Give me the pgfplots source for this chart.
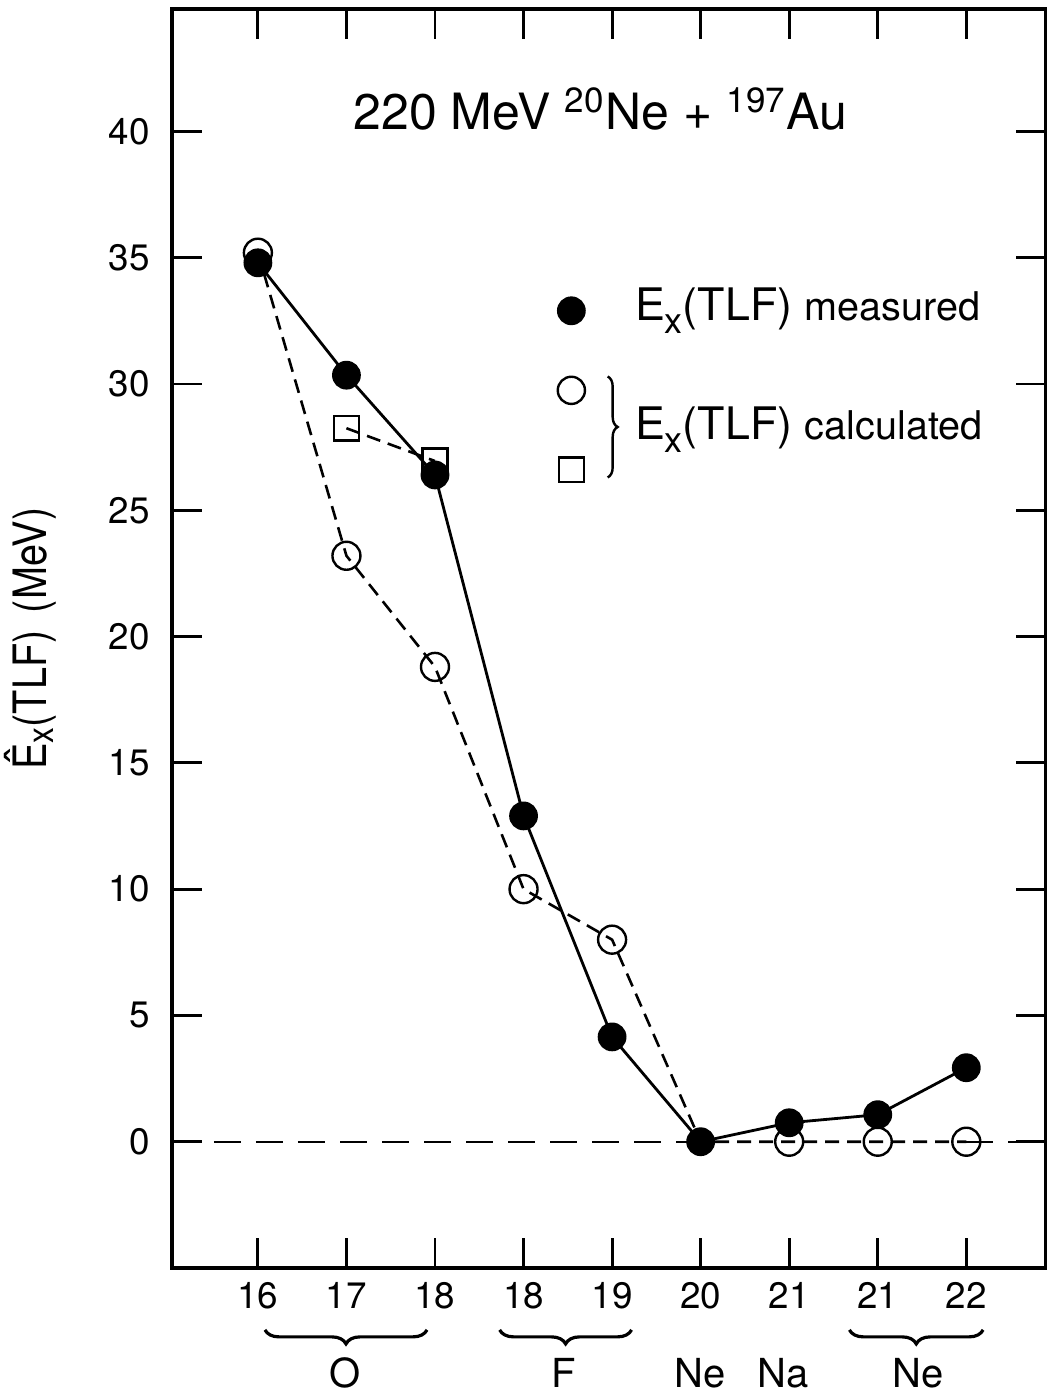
\documentclass[border=0pt]{standalone}
\usepackage{fontspec}
\setmainfont{TeX Gyre Heros}
\usepackage{pgfplots}
\pgfplotsset{compat=1.18}
\usetikzlibrary{decorations.pathreplacing}
\newcommand{\Ex}{E\raisebox{-0.55ex}{\scalebox{0.8}{x}}}
\begin{document}
\begin{tikzpicture}
\begin{axis}[
  scale only axis, width=218.5pt, height=314.75pt,
  xmin=-0.97, xmax=8.9, ymin=-5, ymax=44.85,
  xtick={0,...,8}, xticklabels={16,17,18,18,19,20,21,21,22},
  ytick={0,5,...,40},
  tick align=inside, major tick length=7.5pt,
  axis line style={line width=0.8pt},
  tick style={line width=0.7pt, black},
  every tick label/.append style={font=\fontsize{9.2}{11}\selectfont},
  yticklabel style={xshift=-2pt},
  /pgf/number format/assume math mode=true,
  clip=false,
  ylabel={\scalebox{0.86}[1]{\^{E}\raisebox{-0.3ex}{\scalebox{0.8}{x}}(TLF)\ \,(MeV)}},
  ylabel style={at={(axis description cs:-0.116,0.5)}, anchor=south, font=\fontsize{11.5}{13}\selectfont},
]
% zero reference line
\addplot[black, line width=0.6pt, dash pattern=on 6.75pt off 3.75pt] coordinates {(-0.97,0) (5,0)};
\addplot[black, line width=0.6pt, dash pattern=on 6.75pt off 3.75pt] coordinates {(8,0) (8.9,0)};
% calculated (circles) dashed line
\addplot[black, line width=0.65pt, dash pattern=on 3.5pt off 2pt] coordinates {
(0,35.2) (1,23.2) (2,18.8) (3,10.0) (4,8.0) (5,0) (6,0) (7,0) (8,0)};
% calculated squares dashed line
\addplot[black, line width=0.65pt, dash pattern=on 3.5pt off 2pt, mark=square, mark size=3.1pt, mark options={solid, fill=white, line width=0.6pt}] coordinates {
(1,28.25) (2,26.95)};
% measured solid line
\addplot[black, line width=0.7pt] coordinates {
(0,34.8) (1,30.35) (2,26.4) (3,12.9) (4,4.15) (5,0) (6,0.75) (7,1.07) (8,2.93)};
% open circle marks
\addplot[only marks, mark=o, mark size=3.5pt, mark options={fill=white, line width=0.6pt}] coordinates {
(0,35.2) (1,23.2) (2,18.8) (3,10.0) (4,8.0) (6,0) (7,0) (8,0)};
% filled marks
\addplot[only marks, mark=*, mark size=3.4pt, mark options={fill=black}] coordinates {
(0,34.8) (1,30.35) (2,26.4) (3,12.9) (4,4.15) (5,0) (6,0.75) (7,1.07) (8,2.93)};
% legend markers
\addplot[only marks, mark=*, mark size=3.4pt, mark options={fill=black}] coordinates {(3.54,32.9)};
\addplot[only marks, mark=o, mark size=3.4pt, mark options={fill=white, line width=0.6pt}] coordinates {(3.54,29.75)};
\addplot[only marks, mark=square, mark size=3.1pt, mark options={fill=white, line width=0.6pt}] coordinates {(3.54,26.6)};
% legend texts
\node[anchor=west, inner sep=0pt] at (axis cs:4.25,32.9) {\fontsize{11.2}{13}\selectfont \Ex(TLF) {\fontsize{9.9}{11}\selectfont measured}};
\node[anchor=west, inner sep=0pt] at (axis cs:4.25,28.2) {\fontsize{11.2}{13}\selectfont \Ex(TLF) {\fontsize{9.9}{11}\selectfont calculated}};
\draw[line width=0.6pt, decorate, decoration={brace, amplitude=2.5pt}] (axis cs:3.95,30.3) -- (axis cs:3.95,26.3);
% title
\node at (axis cs:3.87,40.9) {\fontsize{12.5}{14}\selectfont 220 MeV \textsuperscript{20}Ne + \textsuperscript{197}Au};
% bottom braces and element labels
\draw[line width=0.8pt, decorate, decoration={brace, amplitude=3.5pt}] (axis cs:1.91,-7.45) -- (axis cs:0.08,-7.45);
\draw[line width=0.8pt, decorate, decoration={brace, amplitude=3.5pt}] (axis cs:4.22,-7.45) -- (axis cs:2.73,-7.45);
\draw[line width=0.8pt, decorate, decoration={brace, amplitude=3.5pt}] (axis cs:8.19,-7.45) -- (axis cs:6.68,-7.45);
\node at (axis cs:0.98,-9.15) {\fontsize{10}{12}\selectfont O};
\node at (axis cs:3.45,-9.15) {\fontsize{10}{12}\selectfont F};
\node at (axis cs:4.99,-9.15) {\fontsize{10}{12}\selectfont Ne};
\node at (axis cs:5.93,-9.15) {\fontsize{10}{12}\selectfont Na};
\node at (axis cs:7.46,-9.15) {\fontsize{10}{12}\selectfont Ne};
\end{axis}
\pgfresetboundingbox
\path[use as bounding box] ([xshift=-43pt,yshift=-32.5pt]current axis.south west) rectangle ([yshift=2.25pt]current axis.north east);
\end{tikzpicture}
\end{document}
